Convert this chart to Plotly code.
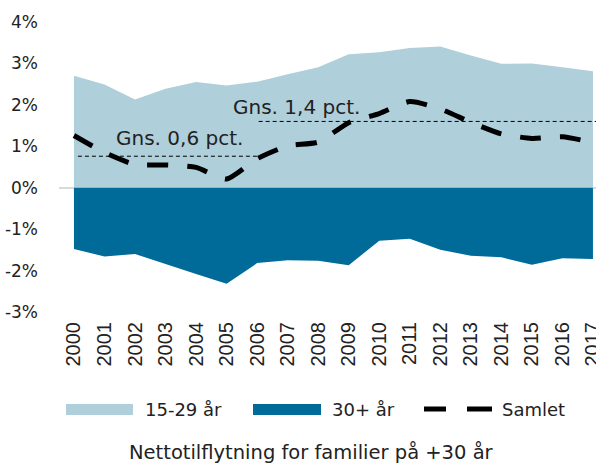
import plotly.graph_objects as go

years = list(range(2000, 2018))
year_labels = [str(y) for y in years]
young = [2.70, 2.49, 2.13, 2.39, 2.55, 2.47, 2.56, 2.74, 2.91, 3.22, 3.27, 3.37, 3.41, 3.19, 2.99, 3.00, 2.91, 2.81]
older = [-1.48, -1.66, -1.60, -1.84, -2.08, -2.32, -1.82, -1.75, -1.76, -1.87, -1.28, -1.23, -1.50, -1.64, -1.68, -1.86, -1.70, -1.72]
total = [1.26, 0.85, 0.56, 0.55, 0.49, 0.21, 0.70, 1.01, 1.10, 1.57, 1.79, 2.08, 1.90, 1.58, 1.30, 1.19, 1.23, 1.09]
avg1_x = [2000.13, 2006.32]
avg1_y = [0.76, 0.76]
avg2_x = [2006.05, 2017.1]
avg2_y = [1.60, 1.60]
y_ticks = [-3, -2, -1, 0, 1, 2, 3, 4]
y_labels = ["-3%", "-2%", "-1%", "0%", "1%", "2%", "3%", "4%"]

LIGHT = "#AFCFDB"
DARK = "#006A98"
TXT = "#222222"
FONT = "DejaVu Sans"

W, H = 596, 463
L, R, T, B = 59, 596, 22, 312
XR = [1999.51, 2017.1]


def px(x):
    return (x - L) / (R - L)


def py(y):
    return (B - y) / (B - T)


fig = go.Figure()
fig.add_trace(go.Scatter(x=years, y=young, fill="tozeroy", fillcolor=LIGHT,
                         mode="none", name="15-29 år", hoverinfo="skip"))
fig.add_trace(go.Scatter(x=years, y=older, fill="tozeroy", fillcolor=DARK,
                         mode="none", name="30+ år", hoverinfo="skip"))
fig.add_trace(go.Scatter(x=avg1_x, y=avg1_y, mode="lines",
                         line=dict(color="black", width=1, dash="4px,3px")))
fig.add_trace(go.Scatter(x=avg2_x, y=avg2_y, mode="lines",
                         line=dict(color="black", width=1, dash="4px,3px")))
fig.add_trace(go.Scatter(x=years, y=total, mode="lines", name="Samlet",
                         line=dict(color="black", width=5, dash="21px,19px",
                                   shape="spline", smoothing=0.6)))

annotations = [
    dict(x=2003.47, y=1.19, xref="x", yref="y", text="Gns. 0,6 pct.",
         showarrow=False, font=dict(family=FONT, size=20, color=TXT)),
    dict(x=2007.3, y=1.94, xref="x", yref="y", text="Gns. 1,4 pct.",
         showarrow=False, font=dict(family=FONT, size=20, color=TXT)),
    dict(x=px(143), y=py(409), xref="paper", yref="paper", text="15-29 år",
         xanchor="left", yanchor="middle", showarrow=False,
         font=dict(family=FONT, size=18, color=TXT)),
    dict(x=px(330), y=py(409), xref="paper", yref="paper", text="30+ år",
         xanchor="left", yanchor="middle", showarrow=False,
         font=dict(family=FONT, size=18, color=TXT)),
    dict(x=px(500), y=py(409), xref="paper", yref="paper", text="Samlet",
         xanchor="left", yanchor="middle", showarrow=False,
         font=dict(family=FONT, size=18, color=TXT)),
    dict(x=px(311.5), y=py(452), xref="paper", yref="paper",
         text="Nettotilflytning for familier på +30 år",
         xanchor="center", yanchor="middle", showarrow=False,
         font=dict(family=FONT, size=19.5, color=TXT)),
]

shapes = [
    dict(type="rect", xref="paper", yref="paper", x0=px(66), x1=px(133),
         y0=py(415), y1=py(404), fillcolor=LIGHT, line=dict(width=0)),
    dict(type="rect", xref="paper", yref="paper", x0=px(253), x1=px(321),
         y0=py(415), y1=py(404), fillcolor=DARK, line=dict(width=0)),
    dict(type="line", xref="paper", yref="paper", x0=px(424), x1=px(446),
         y0=py(409), y1=py(409), line=dict(color="black", width=5)),
    dict(type="line", xref="paper", yref="paper", x0=px(467), x1=px(492),
         y0=py(409), y1=py(409), line=dict(color="black", width=5)),
]

fig.update_layout(
    width=W, height=H,
    margin=dict(l=L, r=W - R, t=T, b=H - B, pad=0),
    paper_bgcolor="white", plot_bgcolor="white",
    showlegend=False,
    hovermode=False,
    annotations=annotations,
    shapes=shapes,
    xaxis=dict(range=XR, tickmode="array", tickvals=years, ticktext=year_labels,
               tickangle=-90, showgrid=False, zeroline=False, showline=False,
               ticks="", ticklabelstandoff=5, automargin=False,
               ticklabeloverflow="allow",
               tickfont=dict(family="Liberation Sans", size=20, color=TXT)),
    yaxis=dict(range=[-3, 4], tickmode="array", tickvals=y_ticks, ticktext=y_labels,
               showgrid=False, zeroline=True, zerolinecolor="#d9d9d9",
               zerolinewidth=2, showline=False, ticks="", layer="above traces",
               ticklabelstandoff=20, automargin=False,
               tickfont=dict(family=FONT, size=17, color=TXT)),
)

fig.write_html("out.html",
               config={"displayModeBar": False, "staticPlot": True},
               post_script="document.body.style.margin='0';document.body.style.overflow='hidden';")
